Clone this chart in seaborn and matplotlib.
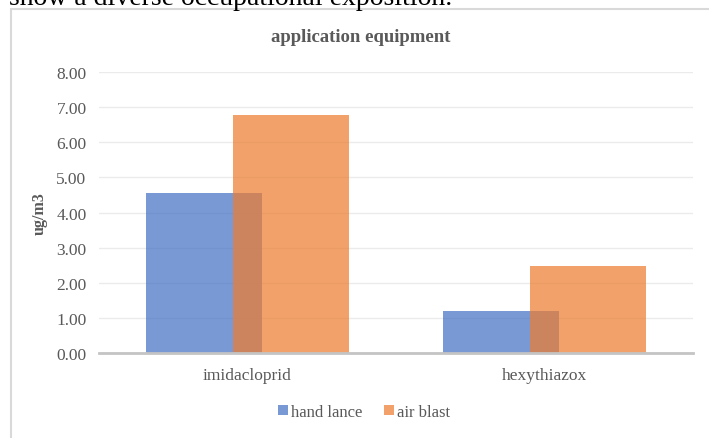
import matplotlib
matplotlib.use("Agg")
import matplotlib.pyplot as plt
from matplotlib.lines import Line2D
from matplotlib.patches import Patch
import seaborn as sns
import pandas as pd

# Data
compounds = ["imidacloprid", "hexythiazox"]
equipment = ["hand lance", "air blast"]
hand_lance = [4.55, 1.20]
air_blast = [6.78, 2.48]
y_ticks = [0, 1, 2, 3, 4, 5, 6, 7, 8]
colors = ["#4472C4", "#ED7D31"]

df = pd.DataFrame({
    "compound": compounds * 2,
    "equipment": [equipment[0]] * 2 + [equipment[1]] * 2,
    "value": hand_lance + air_blast,
})

sns.set_theme(style="white")
plt.rcParams["font.family"] = ["Liberation Serif", "DejaVu Serif"]

W, H, DPI = 709, 439, 100
fig = plt.figure(figsize=(W / DPI, H / DPI), dpi=DPI)
ax = fig.add_axes([99 / W, 1 - 354.3 / H, (693 - 99) / W, (354.3 - 73) / H])

sns.barplot(data=df, x="compound", y="value", hue="equipment",
            order=compounds, hue_order=equipment, palette=colors,
            alpha=0.72, width=0.78, saturation=1, ax=ax, legend=False,
            errorbar=None, linewidth=0)

# overlapping bars: shift each series towards the category centre
bar_w = 0.39
offsets = [-0.147, 0.147]
for k, container in enumerate(ax.containers):
    for j, bar in enumerate(container.patches):
        bar.set_width(bar_w)
        bar.set_x(j + offsets[k] - bar_w / 2)

ax.set_xlim(-0.5, 1.5)
ax.set_ylim(0, 8)
ax.set_yticks(y_ticks)
ax.set_yticklabels([f"{v:.2f}" for v in y_ticks])
ax.yaxis.grid(True, color="#ebebeb", linewidth=1.0)
ax.set_axisbelow(True)
for s in ["left", "right", "top"]:
    ax.spines[s].set_visible(False)
ax.spines["bottom"].set_color("#c4c4c4")
ax.spines["bottom"].set_linewidth(2.0)
ax.tick_params(axis="both", length=0, labelsize=12.5, colors="#595959")
ax.tick_params(axis="x", pad=10)
ax.tick_params(axis="y", pad=9)
ax.set_xlabel("")
ax.set_ylabel("ug/m3", fontsize=11.5, color="#595959", fontweight="bold")
ax.yaxis.set_label_coords(-0.087, 0.5)

fig.text(361 / W, 1 - 38 / H, "application equipment", ha="center", va="center",
         fontsize=13.5, fontweight="bold", color="#595959")

# surrounding text and chart frame
fig.text(9 / W, 1 - 5 / H, "show a diverse occupational exposition.",
         ha="left", va="baseline", fontsize=20, color="black")
fig.add_artist(Line2D([10.5 / W, 10.5 / W], [0, 1 - 9.5 / H],
                      transform=fig.transFigure, color="#d9d9d9", linewidth=1.5))
fig.add_artist(Line2D([10.5 / W, 1], [1 - 9.5 / H, 1 - 9.5 / H],
                      transform=fig.transFigure, color="#d9d9d9", linewidth=1.5))

handles = [Patch(facecolor=c, alpha=0.72, edgecolor="none") for c in colors]
fig.legend(handles, equipment, loc="center", bbox_to_anchor=(364 / W, 1 - 413 / H),
           ncol=2, frameon=False, fontsize=12, handlelength=0.6, handleheight=0.6,
           handletextpad=0.2, columnspacing=1.3, labelcolor="#595959")

fig.savefig("out.png", dpi=DPI)
